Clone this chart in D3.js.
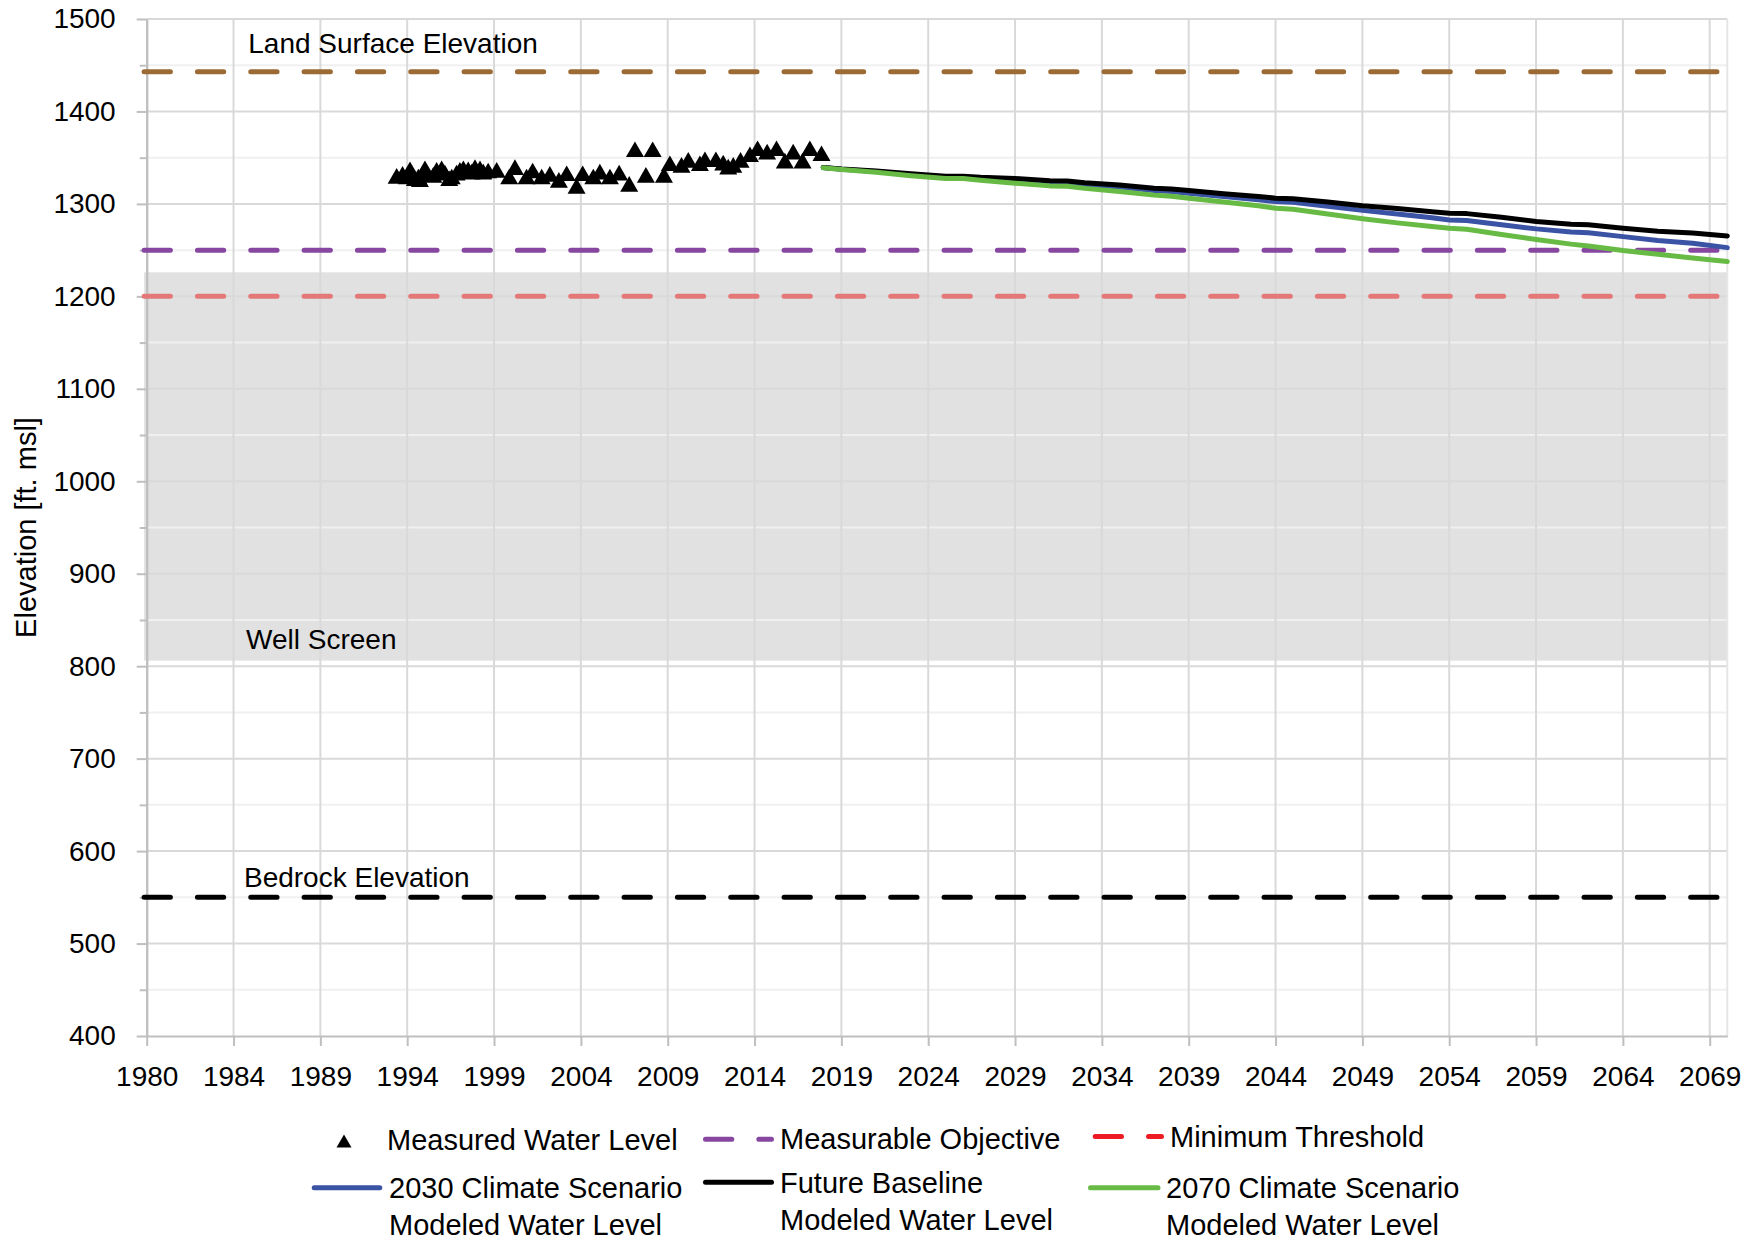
<!DOCTYPE html>
<html>
<head>
<meta charset="utf-8">
<script src="https://cdn.jsdelivr.net/npm/d3@7"></script>
<style>
  html, body { margin: 0; padding: 0; background: #ffffff; }
  svg { display: block; font-family: "Liberation Sans", Arial, sans-serif; }
</style>
</head>
<body>
<svg id="chart" width="1758" height="1244"></svg>
<script>
// ---- Axis tick labels ----
const xTickLabels = ["1980", "1984", "1989", "1994", "1999", "2004", "2009", "2014", "2019",
  "2024", "2029", "2034", "2039", "2044", "2049", "2054", "2059", "2064", "2069"];
const yTickValues = [400, 500, 600, 700, 800, 900, 1000, 1100, 1200, 1300, 1400, 1500];
const yMinorValues = [450, 550, 650, 750, 850, 950, 1050, 1150, 1250, 1350, 1450];

// ---- Measured water level (decimal year, ft msl) ----
const measuredYears = [
  1994.39, 1994.73, 1994.97, 1995.16, 1995.44, 1995.64, 1995.73, 1996.02, 1996.12, 1996.50,
  1996.69, 1996.98, 1997.17, 1997.42, 1997.56, 1997.84, 1998.03, 1998.23, 1998.51, 1998.71,
  1998.90, 1999.19, 1999.38, 1999.66, 2000.15, 2000.87, 2001.20, 2001.87, 2002.22, 2002.74,
  2003.21, 2003.73, 2004.18, 2004.75, 2005.10, 2005.71, 2006.09, 2006.67, 2007.20, 2007.78,
  2008.11, 2008.74, 2009.13, 2009.78, 2010.12, 2010.79, 2011.18, 2011.85, 2012.14, 2012.77,
  2013.19, 2013.48, 2013.77, 2014.19, 2014.73, 2015.17, 2015.72, 2016.26, 2016.74, 2017.22,
  2017.76, 2018.18, 2018.85];
const measuredLevels = [
  1330.3, 1332.4, 1329.6, 1337.5, 1327.8, 1329.6, 1326.7, 1338.6, 1333.2, 1331.4,
  1336.8, 1338.6, 1333.9, 1327.8, 1329.6, 1333.9, 1336.8, 1338.6, 1337.5, 1335.0,
  1339.7, 1338.6, 1335.0, 1336.1, 1336.8, 1329.6, 1339.7, 1329.6, 1336.1, 1329.6,
  1332.4, 1326.0, 1333.2, 1319.5, 1333.2, 1329.6, 1335.0, 1329.6, 1333.9, 1321.6,
  1359.1, 1331.4, 1359.1, 1331.4, 1344.0, 1342.2, 1347.6, 1344.0, 1348.3, 1348.3,
  1344.7, 1340.4, 1342.2, 1347.6, 1353.7, 1360.2, 1356.6, 1360.2, 1346.9, 1356.6,
  1346.9, 1360.2, 1354.8];

// ---- Modeled water levels (decimal year, ft msl) ----
const modelYears = [
  2018.95, 2020, 2022, 2024, 2026, 2027, 2028, 2030, 2032, 2033, 2034, 2036, 2038, 2039,
  2040, 2042, 2044, 2045, 2046, 2048, 2050, 2052, 2054, 2055, 2056, 2058, 2060, 2062,
  2063, 2065, 2067, 2069, 2071];
const scenario2030Levels = [
  1339.3, 1337.5, 1335.0, 1331.5, 1328.8, 1329.0, 1327.5, 1326.0, 1323.2, 1323.0, 1321.2, 1318.2, 1314.5, 1313.5,
  1311.6, 1308.0, 1304.5, 1302.5, 1301.8, 1297.5, 1293.0, 1289.0, 1285.0, 1282.7, 1282.0, 1277.5, 1273.0, 1269.5,
  1268.8, 1264.6, 1260.5, 1257.5, 1252.7];
const baselineLevels = [
  1339.5, 1337.8, 1335.5, 1332.5, 1329.8, 1330.0, 1328.8, 1327.5, 1325.0, 1324.8, 1323.0, 1320.5, 1317.0, 1316.0,
  1314.5, 1311.0, 1308.0, 1306.2, 1305.5, 1302.0, 1298.0, 1295.0, 1291.5, 1290.0, 1289.5, 1285.5, 1281.0, 1278.0,
  1277.5, 1273.7, 1270.5, 1268.5, 1265.4];
const scenario2070Levels = [
  1339.0, 1337.2, 1334.2, 1330.5, 1327.5, 1327.6, 1325.6, 1322.4, 1319.5, 1319.0, 1316.8, 1313.5, 1309.5, 1308.2,
  1306.2, 1302.0, 1298.0, 1295.3, 1294.2, 1289.0, 1284.0, 1279.5, 1275.5, 1273.7, 1272.5, 1267.0, 1261.5, 1256.5,
  1254.5, 1249.5, 1245.5, 1241.5, 1237.6];

// ---- Reference elevations (ft msl) ----
const landSurfaceElevation = 1443;
const measurableObjective = 1250;
const minimumThreshold = 1200;
const bedrockElevation = 550;
const wellScreenRange = [806, 1226];
const referenceSpan = [1979.85, 2071];   // years covered by the reference series

// ---- Layout ----
const plot = { left: 146.7, right: 1727.3, top: 19, bottom: 1036 };
const svg = d3.select("#chart");
const x = d3.scaleLinear().domain([1980, 2071]).range([plot.left, plot.right]);
const y = d3.scaleLinear().domain([400, 1500]).range([plot.bottom, plot.top]);
// date axis: one major unit = 1826 days
const xTickValues = xTickLabels.map((_, i) => 1980 + i * 1826 / 365.25);

const gridColor = "#d9d9d9";
const axisColor = "#bfbfbf";
const strokeW = 5;

// well screen band
svg.append("rect")
  .attr("x", x(referenceSpan[0]))
  .attr("y", y(wellScreenRange[1]))
  .attr("width", x(referenceSpan[1]) - x(referenceSpan[0]))
  .attr("height", y(wellScreenRange[0]) - y(wellScreenRange[1]))
  .attr("fill", "#e1e1e1");

// gridlines
const grid = svg.append("g");
grid.selectAll("line.minor").data(yMinorValues).join("line")
  .attr("class", "minor")
  .attr("x1", plot.left).attr("x2", plot.right)
  .attr("y1", d => y(d)).attr("y2", d => y(d))
  .attr("stroke", "#f0f0f0").attr("stroke-width", 2);
grid.selectAll("line.major").data(yTickValues.slice(1)).join("line")
  .attr("class", "major")
  .attr("x1", plot.left).attr("x2", plot.right)
  .attr("y1", d => y(d)).attr("y2", d => y(d))
  .attr("stroke", gridColor).attr("stroke-width", 2);
grid.selectAll("line.vert").data(xTickValues.slice(1)).join("line")
  .attr("class", "vert")
  .attr("x1", d => x(d)).attr("x2", d => x(d))
  .attr("y1", plot.top).attr("y2", plot.bottom)
  .attr("stroke", gridColor).attr("stroke-width", 2);
grid.append("line")
  .attr("x1", plot.right).attr("x2", plot.right)
  .attr("y1", plot.top).attr("y2", plot.bottom)
  .attr("stroke", "#e6e6e6").attr("stroke-width", 2);

// axes
const yAxis = svg.append("g")
  .attr("transform", `translate(${plot.left},0)`)
  .call(d3.axisLeft(y).tickValues(yTickValues).tickSize(10).tickSizeOuter(0)
    .tickPadding(21).tickFormat(d3.format("d")));
const yMinorAxis = svg.append("g")
  .attr("transform", `translate(${plot.left},0)`)
  .call(d3.axisLeft(y).tickValues(yMinorValues).tickSize(7).tickSizeOuter(0).tickFormat(""));
const xAxis = svg.append("g")
  .attr("transform", `translate(0,${plot.bottom})`)
  .call(d3.axisBottom(x).tickValues(xTickValues).tickSize(10).tickSizeOuter(0)
    .tickPadding(20).tickFormat((d, i) => xTickLabels[i]));
[yAxis, yMinorAxis, xAxis].forEach(g => {
  g.select(".domain").attr("stroke", axisColor).attr("stroke-width", 2);
  g.selectAll(".tick line").attr("stroke", axisColor).attr("stroke-width", 2);
  g.selectAll(".tick text").attr("fill", "#000").attr("font-size", 28)
    .attr("font-family", "Liberation Sans, Arial, sans-serif");
});

// axis title
svg.append("text")
  .attr("transform", `translate(36,${(plot.top + plot.bottom) / 2}) rotate(-90)`)
  .attr("text-anchor", "middle")
  .attr("font-size", 29)
  .text("Elevation [ft. msl]");

// horizontal reference lines (dashed)
const dashPattern = "26.3 27.03";
const refLines = [
  { value: landSurfaceElevation, color: "#9c6a34" },
  { value: measurableObjective, color: "#8747a1" },
  { value: minimumThreshold, color: "#e47878" },
  { value: bedrockElevation, color: "#000000" }
];
svg.append("g").selectAll("line").data(refLines).join("line")
  .attr("x1", x(referenceSpan[0])).attr("x2", x(referenceSpan[1]))
  .attr("y1", d => y(d.value)).attr("y2", d => y(d.value))
  .attr("stroke", d => d.color)
  .attr("stroke-width", strokeW)
  .attr("stroke-linecap", "round")
  .attr("stroke-dasharray", dashPattern);

// in-plot annotations (anchored at their text baseline)
const annotations = [
  { text: "Land Surface Elevation", year: 1985.85, level: 1463.2 },
  { text: "Well Screen", year: 1985.72, level: 818.6 },
  { text: "Bedrock Elevation", year: 1985.6, level: 561.2 }
];
svg.append("g").selectAll("text").data(annotations).join("text")
  .attr("x", d => x(d.year)).attr("y", d => y(d.level))
  .attr("font-size", 28)
  .text(d => d.text);

// modeled water level lines
const modelLine = d3.line().x(d => x(d.year)).y(d => y(d.level));
const modelSeries = [
  { levels: scenario2030Levels, color: "#3a53a4" },
  { levels: baselineLevels, color: "#000000" },
  { levels: scenario2070Levels, color: "#67bb45" }
];
svg.append("g").selectAll("path").data(modelSeries).join("path")
  .attr("d", s => modelLine(modelYears.map((yr, i) => ({ year: yr, level: s.levels[i] }))))
  .attr("fill", "none")
  .attr("stroke", s => s.color)
  .attr("stroke-width", strokeW)
  .attr("stroke-linejoin", "round")
  .attr("stroke-linecap", "round");

// triangle marker, centred on its bounding box
const triangleMarker = {
  draw(ctx, size) {
    const w = size, h = size * 0.87;
    ctx.moveTo(0, -h / 2);
    ctx.lineTo(w / 2, h / 2);
    ctx.lineTo(-w / 2, h / 2);
    ctx.closePath();
  }
};
const marker = d3.symbol().type(triangleMarker).size(18);

svg.append("g").selectAll("path").data(measuredYears).join("path")
  .attr("transform", (d, i) => `translate(${x(d)},${y(measuredLevels[i])})`)
  .attr("d", marker)
  .attr("fill", "#000");

// ---- Legend ----
const legend = svg.append("g").attr("font-size", 29).attr("fill", "#000");
function legendDash(x1, x2, yy, color) {
  legend.append("line")
    .attr("x1", x1).attr("x2", x2).attr("y1", yy).attr("y2", yy)
    .attr("stroke", color).attr("stroke-width", strokeW)
    .attr("stroke-linecap", "round").attr("stroke-dasharray", dashPattern);
}
function legendSolid(x1, x2, yy, color) {
  legend.append("line")
    .attr("x1", x1).attr("x2", x2).attr("y1", yy).attr("y2", yy)
    .attr("stroke", color).attr("stroke-width", strokeW)
    .attr("stroke-linecap", "round");
}
function legendText(tx, baseline, lines) {
  const t = legend.append("text").attr("x", tx).attr("y", baseline);
  lines.forEach((ln, i) => t.append("tspan").attr("x", tx).attr("dy", i ? 37 : 0).text(ln));
}
legend.append("path").attr("transform", "translate(344,1141)")
  .attr("d", d3.symbol().type(triangleMarker).size(15));
legendText(387, 1150, ["Measured Water Level"]);
legendDash(705.5, 771.5, 1139.3, "#8747a1");
legendText(780, 1148.5, ["Measurable Objective"]);
legendDash(1095.2, 1161.5, 1136.5, "#ed1c24");
legendText(1170, 1147, ["Minimum Threshold"]);
legendSolid(314.2, 379.8, 1187.7, "#3a53a4");
legendText(389, 1197.5, ["2030 Climate Scenario", "Modeled Water Level"]);
legendSolid(705.5, 771.5, 1182.3, "#000000");
legendText(780, 1192.5, ["Future Baseline", "Modeled Water Level"]);
legendSolid(1090.5, 1158, 1187.7, "#67bb45");
legendText(1166, 1197.5, ["2070 Climate Scenario", "Modeled Water Level"]);
</script>
</body>
</html>
